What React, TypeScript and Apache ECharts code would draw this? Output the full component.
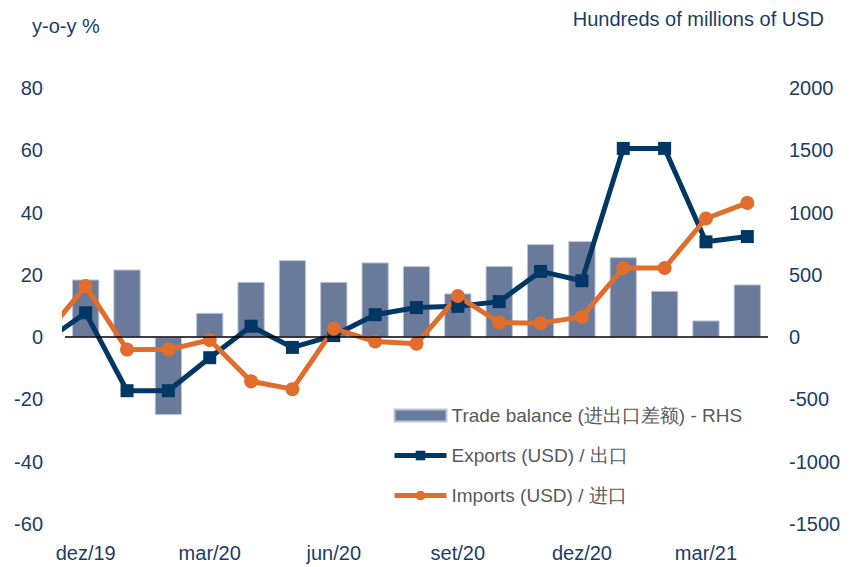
import React, { useEffect, useRef } from 'react';
import * as echarts from 'echarts';

// Categories shown on the axis (dez/19 .. abr/21)
const categories = [
  'dez/19', 'jan/20', 'fev/20', 'mar/20', 'abr/20', 'mai/20', 'jun/20', 'jul/20',
  'ago/20', 'set/20', 'out/20', 'nov/20', 'dez/20', 'jan/21', 'fev/21', 'mar/21', 'abr/21',
];

// Line series start one month earlier (nov/19), which is clipped at the left edge
const exportsYoY = [-1.5, 7.8, -17.2, -17.2, -6.6, 3.5, -3.3, 0.5, 7.2, 9.5, 9.9, 11.4, 21.1, 18.1, 60.6, 60.6, 30.6, 32.3];
const importsYoY = [0.3, 16.4, -4.0, -4.0, -0.9, -14.2, -16.7, 2.7, -1.4, -2.1, 13.2, 4.7, 4.5, 6.5, 22.2, 22.2, 38.1, 43.1];

// Trade balance, hundreds of millions of USD (RHS)
const tradeBalance = [463, 543, -626, 195, 444, 618, 444, 600, 570, 351, 572, 747, 771, 642, 372, 134, 423];

const leftTicks = { min: -60, max: 80, interval: 20 };
const rightTicks = { min: -1500, max: 2000, interval: 500 };

const NAMES = {
  bal: 'Trade balance (进出口差额) - RHS',
  exp: 'Exports (USD) / 出口',
  imp: 'Imports (USD) / 进口',
};

const FONT = "'Liberation Sans', Arial, sans-serif";
const AXIS_COLOR = '#1a3d66';
const NAVY = '#003764';
const ORANGE = '#e06d2b';

export default function App() {
  const ref = useRef<HTMLDivElement>(null);

  useEffect(() => {
    if (!ref.current) return;
    const chart = echarts.init(ref.current, null, { renderer: 'svg' });
    const toPairs = (arr: number[]) => arr.map((v, i) => [i - 1, v]);

    chart.setOption({
      animation: false,
      grid: { left: 65, right: 89, top: 88, bottom: 43 },
      graphic: [
        {
          type: 'text', left: 32, top: 16,
          style: { text: 'y-o-y %', fill: AXIS_COLOR, font: `20px ${FONT}` },
        },
        {
          type: 'text', right: 33, top: 9,
          style: { text: 'Hundreds of millions of USD', fill: AXIS_COLOR, font: `20px ${FONT}` },
        },
      ],
      legend: {
        orient: 'vertical',
        left: 392,
        top: 405,
        padding: 0,
        itemWidth: 52,
        itemHeight: 12,
        itemGap: 19,
        lineStyle: { width: 5 },
        textStyle: { color: '#595959', fontSize: 19, fontFamily: FONT, lineHeight: 21 },
        data: [
          { name: NAMES.bal, icon: 'rect' },
          { name: NAMES.exp },
          { name: NAMES.imp },
        ],
      },
      xAxis: [
        {
          type: 'category',
          data: categories,
          boundaryGap: true,
          axisLine: { show: false },
          axisTick: { show: false },
          splitLine: { show: false },
          axisLabel: { interval: 2, color: AXIS_COLOR, fontSize: 20, fontFamily: FONT, margin: 19 },
        },
        {
          type: 'value',
          min: -0.5,
          max: categories.length - 0.5,
          show: false,
        },
      ],
      yAxis: [
        {
          type: 'value',
          ...leftTicks,
          axisLine: { show: false },
          axisTick: { show: false },
          splitLine: { show: false },
          axisLabel: { color: AXIS_COLOR, fontSize: 20, fontFamily: FONT, margin: 22 },
        },
        {
          type: 'value',
          ...rightTicks,
          position: 'right',
          axisLine: { show: false },
          axisTick: { show: false },
          splitLine: { show: false },
          axisLabel: {
            color: AXIS_COLOR, fontSize: 20, fontFamily: FONT, margin: 21,
            formatter: (v: number) => String(v),
          },
        },
      ],
      series: [
        {
          name: NAMES.bal,
          type: 'bar',
          xAxisIndex: 0,
          yAxisIndex: 1,
          data: tradeBalance,
          barWidth: '66%',
          itemStyle: { color: '#6a7a9b', borderColor: '#bcc5d8', borderWidth: 1 },
          markLine: {
            silent: true,
            symbol: ['none', 'none'],
            label: { show: false },
            lineStyle: { color: '#000000', width: 1.5, type: 'solid' },
            data: [{ yAxis: 0 }],
          },
        },
        {
          name: NAMES.exp,
          type: 'line',
          xAxisIndex: 1,
          yAxisIndex: 0,
          data: toPairs(exportsYoY),
          symbol: 'rect',
          symbolSize: 13,
          clip: true,
          color: NAVY,
          lineStyle: { width: 5, color: NAVY },
          itemStyle: { color: NAVY },
        },
        {
          name: NAMES.imp,
          type: 'line',
          xAxisIndex: 1,
          yAxisIndex: 0,
          data: toPairs(importsYoY),
          symbol: 'circle',
          symbolSize: 14,
          clip: true,
          color: ORANGE,
          lineStyle: { width: 5, color: ORANGE },
          itemStyle: { color: ORANGE },
        },
      ],
    });

    return () => chart.dispose();
  }, []);

  return (
    <div
      ref={ref}
      style={{ position: 'fixed', left: 0, top: 0, width: 857, height: 567, background: '#fff' }}
    />
  );
}
